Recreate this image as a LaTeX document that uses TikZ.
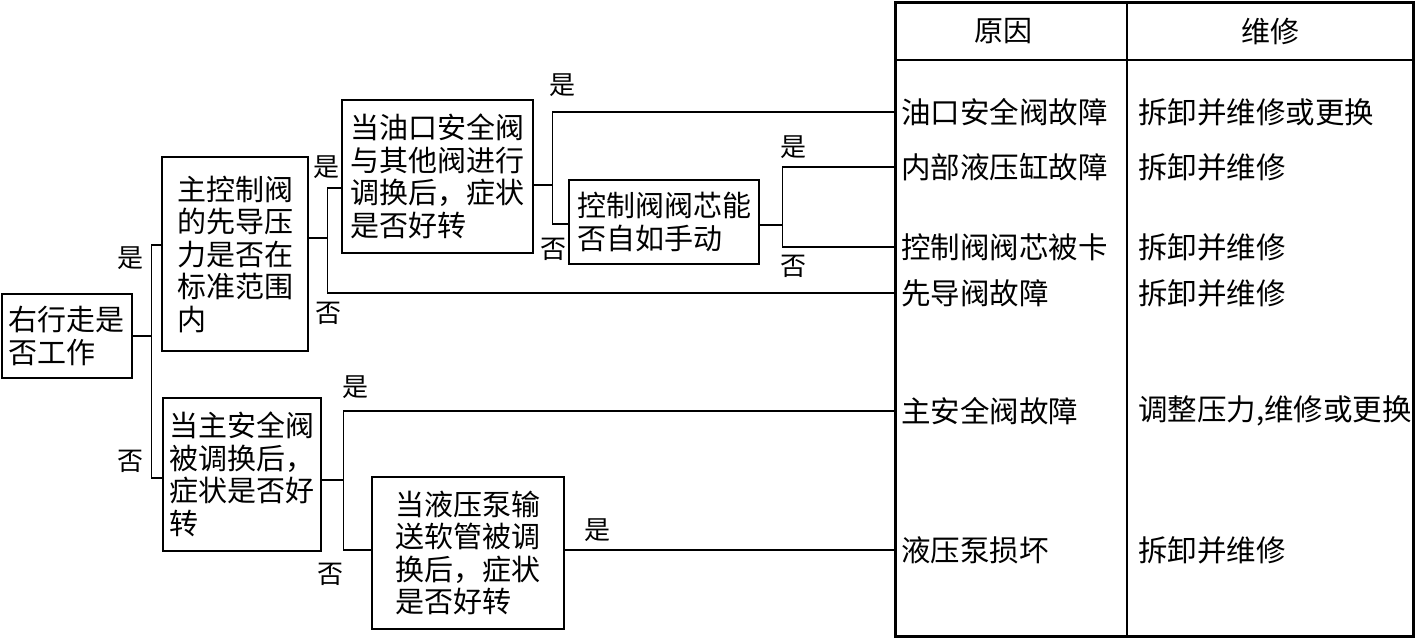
\documentclass[tikz,border=0pt]{standalone}
\usepackage{fontspec}
\setmainfont{Noto Sans CJK SC}
\usetikzlibrary{calc}
\tikzset{
  box/.style={draw, line width=2.6pt, align=left, inner sep=0pt, font=\fontsize{29}{32.5}\selectfont},
  lbl/.style={font=\fontsize{26}{28}\selectfont, inner sep=0pt},
  ln/.style={line width=1.3pt},
  cell/.style={anchor=west, inner sep=0pt, inner xsep=6pt, font=\fontsize{29.5}{32}\selectfont},
  head/.style={inner sep=0pt, font=\fontsize{29}{32}\selectfont},
}
\begin{document}
\begin{tikzpicture}[x=1pt,y=-1pt]
\useasboundingbox (0,0) rectangle (1416,638);
% decision boxes
\node[box, minimum width=130pt, minimum height=84pt] (b1) at (67,336) {右行走是\\否工作};
\node[box, minimum width=146pt, minimum height=194pt] (b2) at (235,254) {主控制阀\\的先导压\\力是否在\\标准范围\\内};
\node[box, minimum width=191pt, minimum height=153pt] (b3) at (437.5,176.5) {当油口安全阀\\与其他阀进行\\调换后，症状\\是否好转};
\node[box, minimum width=190pt, minimum height=84pt] (b4) at (664,222) {控制阀阀芯能\\否自如手动};
\node[box, minimum width=158pt, minimum height=153pt] (b5) at (242,474.5) {当主安全阀\\被调换后，\\症状是否好\\转};
\node[box, minimum width=192pt, minimum height=152pt] (b6) at (468,553) {当液压泵输\\送软管被调\\换后，症状\\是否好转};
% table
\draw[line width=3pt] (895,2) rectangle (1413,636);
\draw[line width=2pt] (895,60) -- (1413,60);
\draw[line width=2pt] (1127,2) -- (1127,636);
\node[head] (h1) at (1003,31) {原因};
\node[head] (h2) at (1270,31) {维修};
\node[cell] (c1) at (895,112) {油口安全阀故障};
\node[cell] (c2) at (895,167) {内部液压缸故障};
\node[cell] (c3) at (895,247) {控制阀阀芯被卡};
\node[cell] (c4) at (895,293) {先导阀故障};
\node[cell] (c5) at (895,411) {主安全阀故障};
\node[cell] (c6) at (895,550) {液压泵损坏};
\node[cell] (r1) at (1132,112) {拆卸并维修或更换};
\node[cell] (r2) at (1132,167) {拆卸并维修};
\node[cell] (r3) at (1132,247) {拆卸并维修};
\node[cell] (r4) at (1132,293) {拆卸并维修};
\node[cell] (r5) at (1132,411) {调整压力,维修或更换};
\node[cell] (r6) at (1132,550) {拆卸并维修};
% connectors
\draw[ln] (b1.east) -- ++(18,0) coordinate (j1);
\draw[ln] (j1) |- ($(b2.west)+(0,-9)$);
\draw[ln] (j1) |- ($(b5.west)+(0,3.5)$);
\draw[ln] ($(b2.east)+(0,-16)$) -- ++(18,0) coordinate (j2);
\draw[ln] (j2) |- ($(b3.west)+(0,11.5)$);
\draw[ln] (j2) |- (c4.west);
\draw[ln] ($(b3.east)+(0,8.5)$) -- ++(18,0) coordinate (j3);
\draw[ln] (j3) |- (c1.west);
\draw[ln] (j3) |- ($(b4.west)+(0,2)$);
\draw[ln] ($(b4.east)+(0,3)$) -- ++(22,0) coordinate (j4);
\draw[ln] (j4) |- (c2.west);
\draw[ln] (j4) |- (c3.west);
\draw[ln] ($(b5.east)+(0,5.5)$) -- ++(21,0) coordinate (j5);
\draw[ln] (j5) |- (c5.west);
\draw[ln] (j5) |- ($(b6.west)+(0,-3)$);
\draw[ln] ($(b6.east)+(0,-3)$) -- (c6.west);
% labels
\node[lbl] (y1) at (130,258) {是};
\node[lbl] (n1) at (130,461) {否};
\node[lbl] (y2) at (326,167) {是};
\node[lbl] (n2) at (328,313) {否};
\node[lbl] (y3) at (562,85) {是};
\node[lbl] (n3) at (553,249) {否};
\node[lbl] (y4) at (793,147) {是};
\node[lbl] (n4) at (793,266) {否};
\node[lbl] (y5) at (355,387) {是};
\node[lbl] (n5) at (330,574) {否};
\node[lbl] (y6) at (597,530) {是};
\end{tikzpicture}
\end{document}
